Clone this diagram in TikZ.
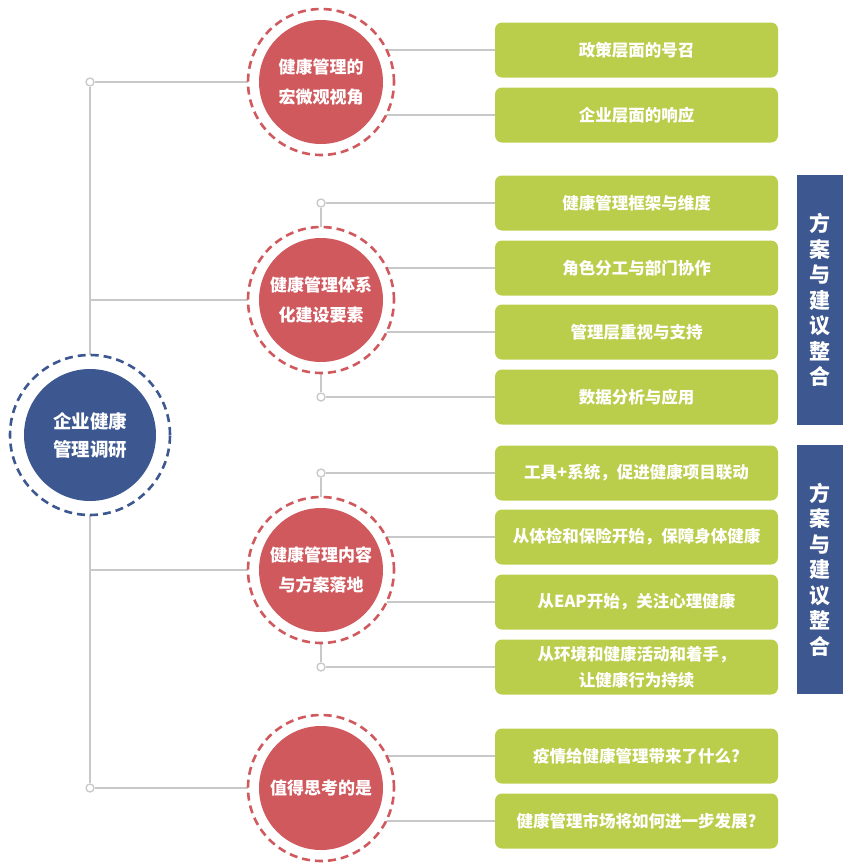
\documentclass[tikz,border=0pt]{standalone}
\usepackage{fontspec}
\setmainfont{Noto Sans CJK SC}
\definecolor{cred}{HTML}{D0595E}
\definecolor{cgreen}{HTML}{BBCE4B}
\definecolor{cblue}{HTML}{3D5891}
\definecolor{lgray}{HTML}{C8C8C8}
\pgfdeclarelayer{bg}
\pgfsetlayers{bg,main}
\tikzset{
  ln/.style={draw=lgray, line width=1.5pt},
  dot/.style={circle, draw=lgray, fill=white, line width=1.3pt, inner sep=0pt, minimum size=8pt},
  ring/.style={circle, dash pattern=on 8pt off 5pt, line width=2.6pt, fill=white, inner sep=0pt},
  redring/.style={ring, draw=cred, minimum size=146pt},
  redcore/.style={circle, fill=cred, minimum size=124pt, inner sep=0pt, text=white, align=center,
    font=\bfseries\fontsize{17}{30}\selectfont},
  bluering/.style={ring, draw=cblue, minimum size=160pt},
  bluecore/.style={circle, fill=cblue, minimum size=132pt, inner sep=0pt, text=white, align=center,
    font=\bfseries\fontsize{18.5}{28}\selectfont},
  gbox/.style={rectangle, rounded corners=7pt, fill=cgreen, minimum width=283pt, minimum height=55pt,
    inner sep=0pt, text=white, align=center, font=\bfseries\fontsize{16.5}{26}\selectfont},
  bar/.style={rectangle, fill=cblue, minimum width=46pt, inner sep=0pt, text=white, align=center,
    font=\bfseries\fontsize{21}{25.5}\selectfont}
}
\begin{document}
\begin{tikzpicture}[x=1pt,y=-1pt]
\useasboundingbox (0,0) rectangle (843,865);
% left main circle
\node[bluering] (L) at (90,435) {};
\node[bluecore] (Lc) at (L.center) {企业健康\\管理调研};
\node[dot] (d0) at (90,82) {};
\node[dot] (d1) at (90,788) {};
% red circles
\node[redring] (r1) at (321,82) {};
\node[redcore] (c1) at (r1.center) {健康管理的\\宏微观视角};
\node[redring] (r2) at (321,300) {};
\node[redcore] (c2) at (r2.center) {健康管理体系\\化建设要素};
\node[redring] (r3) at (321,570) {};
\node[redcore] (c3) at (r3.center) {健康管理内容\\与方案落地};
\node[redring] (r4) at (321,788) {};
\node[redcore] (c4) at (r4.center) {值得思考的是};
% small dots
\node[dot] (t2) at (321,203) {};
\node[dot] (u2) at (321,397) {};
\node[dot] (t3) at (321,473) {};
\node[dot] (u3) at (321,667) {};
% green boxes
\node[gbox] (b1) at (636.5,50) {政策层面的号召};
\node[gbox] (b2) at (636.5,115) {企业层面的响应};
\node[gbox] (b3) at (636.5,203) {健康管理框架与维度};
\node[gbox] (b4) at (636.5,268) {角色分工与部门协作};
\node[gbox] (b5) at (636.5,332) {管理层重视与支持};
\node[gbox] (b6) at (636.5,397) {数据分析与应用};
\node[gbox] (b7) at (636.5,473) {工具+系统，促进健康项目联动};
\node[gbox] (b8) at (636.5,537) {从体检和保险开始，保障身体健康};
\node[gbox] (b9) at (636.5,602) {从EAP开始，关注心理健康};
\node[gbox] (b10) at (636.5,667) {从环境和健康活动和着手，\\让健康行为持续};
\node[gbox] (b11) at (636.5,756) {疫情给健康管理带来了什么?};
\node[gbox] (b12) at (636.5,821) {健康管理市场将如何进一步发展?};
% side bars
\node[bar, minimum height=250pt] (s1) at (820,300) {方\\案\\与\\建\\议\\整\\合};
\node[bar, minimum height=249pt] (s2) at (820,569.5) {方\\案\\与\\建\\议\\整\\合};
% connectors
\begin{pgfonlayer}{bg}
\draw[ln] (d0) -- (d1);
\draw[ln] (d0) -- (r1.center);
\draw[ln] (d0 |- r2) -- (r2.center);
\draw[ln] (d0 |- r3) -- (r3.center);
\draw[ln] (d1) -- (r4.center);
\draw[ln] (b1.west) -- (b1.west -| r1.center);
\draw[ln] (b2.west) -- (b2.west -| r1.center);
\draw[ln] (t2) -- (r2.center);
\draw[ln] (u2) -- (r2.center);
\draw[ln] (t2) -- (b3.west);
\draw[ln] (b4.west) -- (b4.west -| r2.center);
\draw[ln] (b5.west) -- (b5.west -| r2.center);
\draw[ln] (u2) -- (b6.west);
\draw[ln] (t3) -- (r3.center);
\draw[ln] (u3) -- (r3.center);
\draw[ln] (t3) -- (b7.west);
\draw[ln] (b8.west) -- (b8.west -| r3.center);
\draw[ln] (b9.west) -- (b9.west -| r3.center);
\draw[ln] (u3) -- (b10.west);
\draw[ln] (b11.west) -- (b11.west -| r4.center);
\draw[ln] (b12.west) -- (b12.west -| r4.center);
\end{pgfonlayer}
\end{tikzpicture}
\end{document}
